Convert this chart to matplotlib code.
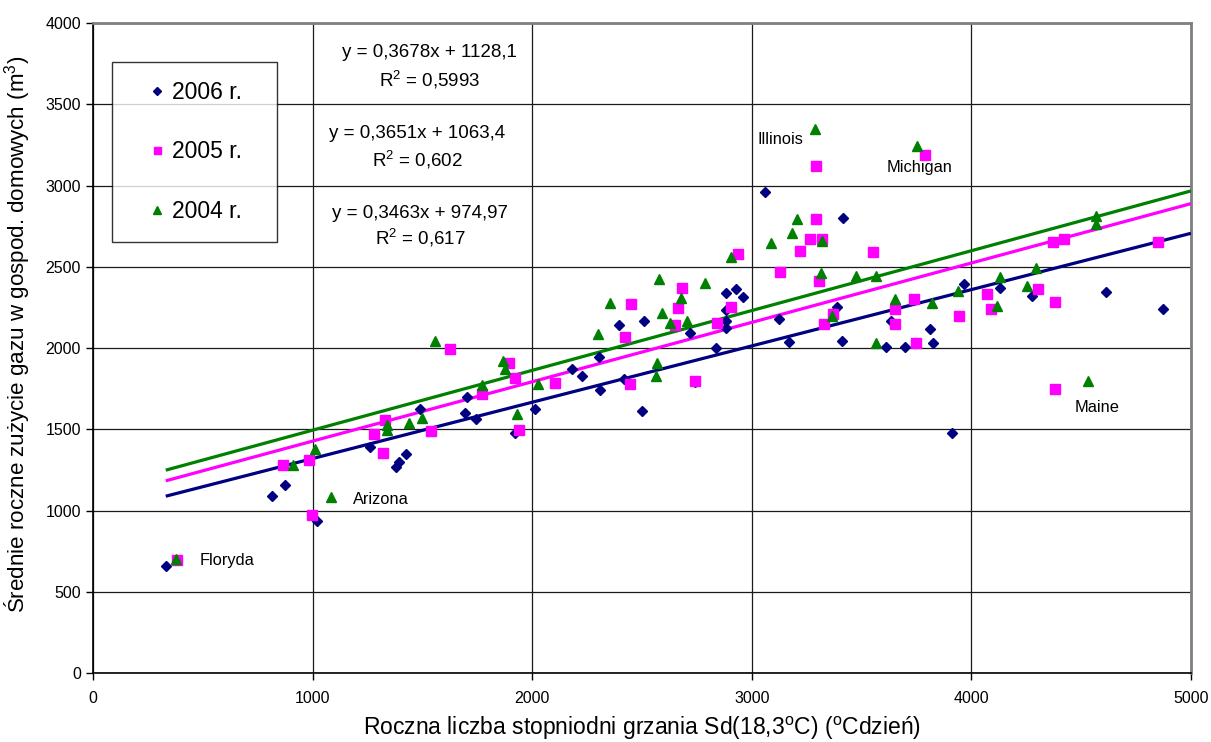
import matplotlib
matplotlib.use("Agg")
import matplotlib.pyplot as plt
import numpy as np

plt.rcParams['font.family'] = ['Liberation Sans', 'DejaVu Sans']
plt.rcParams['mathtext.fontset'] = 'custom'
plt.rcParams['mathtext.rm'] = 'Liberation Sans'
plt.rcParams['mathtext.it'] = 'Liberation Sans:italic'

# ---------------- data ----------------
x_2006 = [330, 814, 875, 1021, 1259, 1379, 1393, 1426, 1489, 1693, 1702, 1743, 1922, 2014,
          2181, 2225, 2304, 2306, 2394, 2417, 2499, 2510, 2717, 2740, 2838, 2881, 2881, 2884,
          2884, 2928, 2961, 3059, 3125, 3169, 3386, 3409, 3417, 3609, 3633, 3696, 3813, 3823,
          3913, 3965, 4129, 4274, 4615, 4871]
y_2006 = [660, 1091, 1157, 937, 1389, 1270, 1300, 1348, 1627, 1604, 1701, 1567, 1475, 1625,
          1871, 1828, 1943, 1742, 2145, 1813, 1612, 2168, 2094, 1790, 1998, 2340, 2237, 2168,
          2121, 2363, 2312, 2958, 2178, 2035, 2254, 2043, 2802, 2004, 2166, 2010, 2117, 2033,
          1481, 2392, 2367, 2320, 2343, 2240]

x_2005 = [380, 865, 982, 994, 1279, 1318, 1329, 1537, 1624, 1770, 1892, 1921, 1937, 2102,
          2420, 2447, 2450, 2650, 2664, 2683, 2740, 2842, 2906, 2938, 3129, 3221, 3265, 3291,
          3292, 3304, 3320, 3327, 3371, 3551, 3650, 3653, 3737, 3747, 3790, 3942, 4070, 4087,
          4303, 4373, 4379, 4380, 4422, 4852]
y_2005 = [695, 1284, 1315, 972, 1471, 1356, 1561, 1491, 1992, 1715, 1910, 1819, 1495, 1788,
          2066, 1778, 2271, 2142, 2249, 2373, 1800, 2156, 2255, 2578, 2468, 2600, 2671, 3120,
          2794, 2412, 2670, 2148, 2213, 2593, 2146, 2243, 2305, 2031, 3188, 2195, 2334, 2238,
          2361, 2650, 1746, 2283, 2674, 2654]

x_2004 = [376, 910, 1009, 1081, 1336, 1336, 1438, 1496, 1557, 1770, 1865, 1877, 1930, 2024,
          2298, 2355, 2564, 2567, 2577, 2592, 2626, 2679, 2705, 2787, 2904, 3085, 3184, 3204,
          3289, 3315, 3320, 3363, 3475, 3566, 3566, 3652, 3752, 3820, 3939, 4117, 4132, 4251,
          4292, 4533, 4566, 4566]
y_2004 = [700, 1280, 1377, 1085, 1495, 1526, 1537, 1573, 2045, 1772, 1922, 1871, 1594, 1778,
          2084, 2275, 1830, 1910, 2425, 2214, 2152, 2306, 2166, 2398, 2562, 2649, 2710, 2794,
          3346, 2464, 2660, 2197, 2443, 2443, 2029, 2305, 3243, 2279, 2351, 2262, 2439, 2382,
          2494, 1797, 2812, 2763]

series_labels = ['2006 r.', '2005 r.', '2004 r.']
# trend-line coefficients (slope, intercept) as drawn for each series
trend_slope = [0.3463, 0.3651, 0.3678]
trend_intercept = [974.97, 1063.4, 1128.1]

equation_texts = [('y = 0,3678x + 1128,1', '0,5993'),
                  ('y = 0,3651x + 1063,4', '0,602'),
                  ('y = 0,3463x + 974,97', '0,617')]

state_labels = ['Floryda', 'Arizona', 'Illinois', 'Michigan', 'Maine']

x_ticks = [0, 1000, 2000, 3000, 4000, 5000]
y_ticks = [0, 500, 1000, 1500, 2000, 2500, 3000, 3500, 4000]

# ---------------- figure ----------------
fig = plt.figure(figsize=(12.11, 7.42), dpi=100)
ax = fig.add_axes([0.07705, 0.0926, 0.9064, 0.8764])

colors = ['#000080', '#FF00FF', '#008000']
markers = ['D', 's', '^']
msizes = [5.2, 7.0, 7.5]
xs = [x_2006, x_2005, x_2004]
ys = [y_2006, y_2005, y_2004]

x_min_all = min(min(x_2006), min(x_2005), min(x_2004))
xt = np.array([x_min_all, 5000])
for c, s, b in zip(colors, trend_slope, trend_intercept):
    ax.plot(xt, s * xt + b, color=c, lw=2.3, zorder=3, solid_capstyle='butt')

handles = []
for x, y, c, m, ms, lab in zip(xs, ys, colors, markers, msizes, series_labels):
    h, = ax.plot(x, y, linestyle='none', marker=m, markersize=ms, color=c,
                 markeredgecolor=c, label=lab, zorder=4)
    handles.append(h)

ax.set_xlim(0, 5000)
ax.set_ylim(0, 4000)
ax.set_xticks(x_ticks)
ax.set_yticks(y_ticks)
ax.tick_params(axis='both', direction='out', length=5, width=1, labelsize=11.5)
ax.tick_params(axis='x', pad=8)
ax.tick_params(axis='y', pad=4)
ax.grid(True, color='#1a1a1a', lw=0.9)
ax.set_axisbelow(True)
for sp in ['left', 'bottom']:
    ax.spines[sp].set_color('black')
    ax.spines[sp].set_linewidth(1.2)
for sp in ['top', 'right']:
    ax.spines[sp].set_color('#808080')
    ax.spines[sp].set_linewidth(2.0)

ax.set_xlabel(r'Roczna liczba stopniodni grzania Sd(18,3$^\mathrm{o}$C) ($^\mathrm{o}$Cdzień)',
              fontsize=16.5, labelpad=6)
ax.set_ylabel(r'Średnie roczne zużycie gazu w gospod. domowych (m$^\mathrm{3}$)',
              fontsize=16.1)
ax.yaxis.set_label_coords(-0.0555, 0.522)

# equations
eq_pos = [(1530, 3817, 3649), (1475, 3323, 3157), (1490, 2831, 2677)]
for (eq, r2), (ex, ey1, ey2) in zip(equation_texts, eq_pos):
    ax.text(ex, ey1, eq, ha='center', va='center', fontsize=13.5, zorder=5)
    ax.text(ex, ey2, r'R$^\mathrm{2}$ = ' + r2, ha='center', va='center', fontsize=13.5, zorder=5)

# state labels
ax.text(486, 691, state_labels[0], ha='left', va='center', fontsize=11.8)
ax.text(1181, 1070, state_labels[1], ha='left', va='center', fontsize=11.8)
ax.text(3235, 3285, state_labels[2], ha='right', va='center', fontsize=11.8)
ax.text(3614, 3110, state_labels[3], ha='left', va='center', fontsize=11.8)
ax.text(4469, 1636, state_labels[4], ha='left', va='center', fontsize=11.8)

leg = ax.legend(handles=handles, loc='upper left',
                bbox_to_anchor=(0.017, 0.668, 0.1504, 0.272), mode='expand',
                borderaxespad=0, fontsize=16.5, frameon=True, fancybox=False,
                edgecolor='black', borderpad=0.82, labelspacing=1.6,
                handlelength=2.25, handletextpad=-0.45, numpoints=1, markerscale=0.72)
leg.get_frame().set_linewidth(1.0)
leg.set_zorder(6)

fig.savefig('out.png', dpi=100)
